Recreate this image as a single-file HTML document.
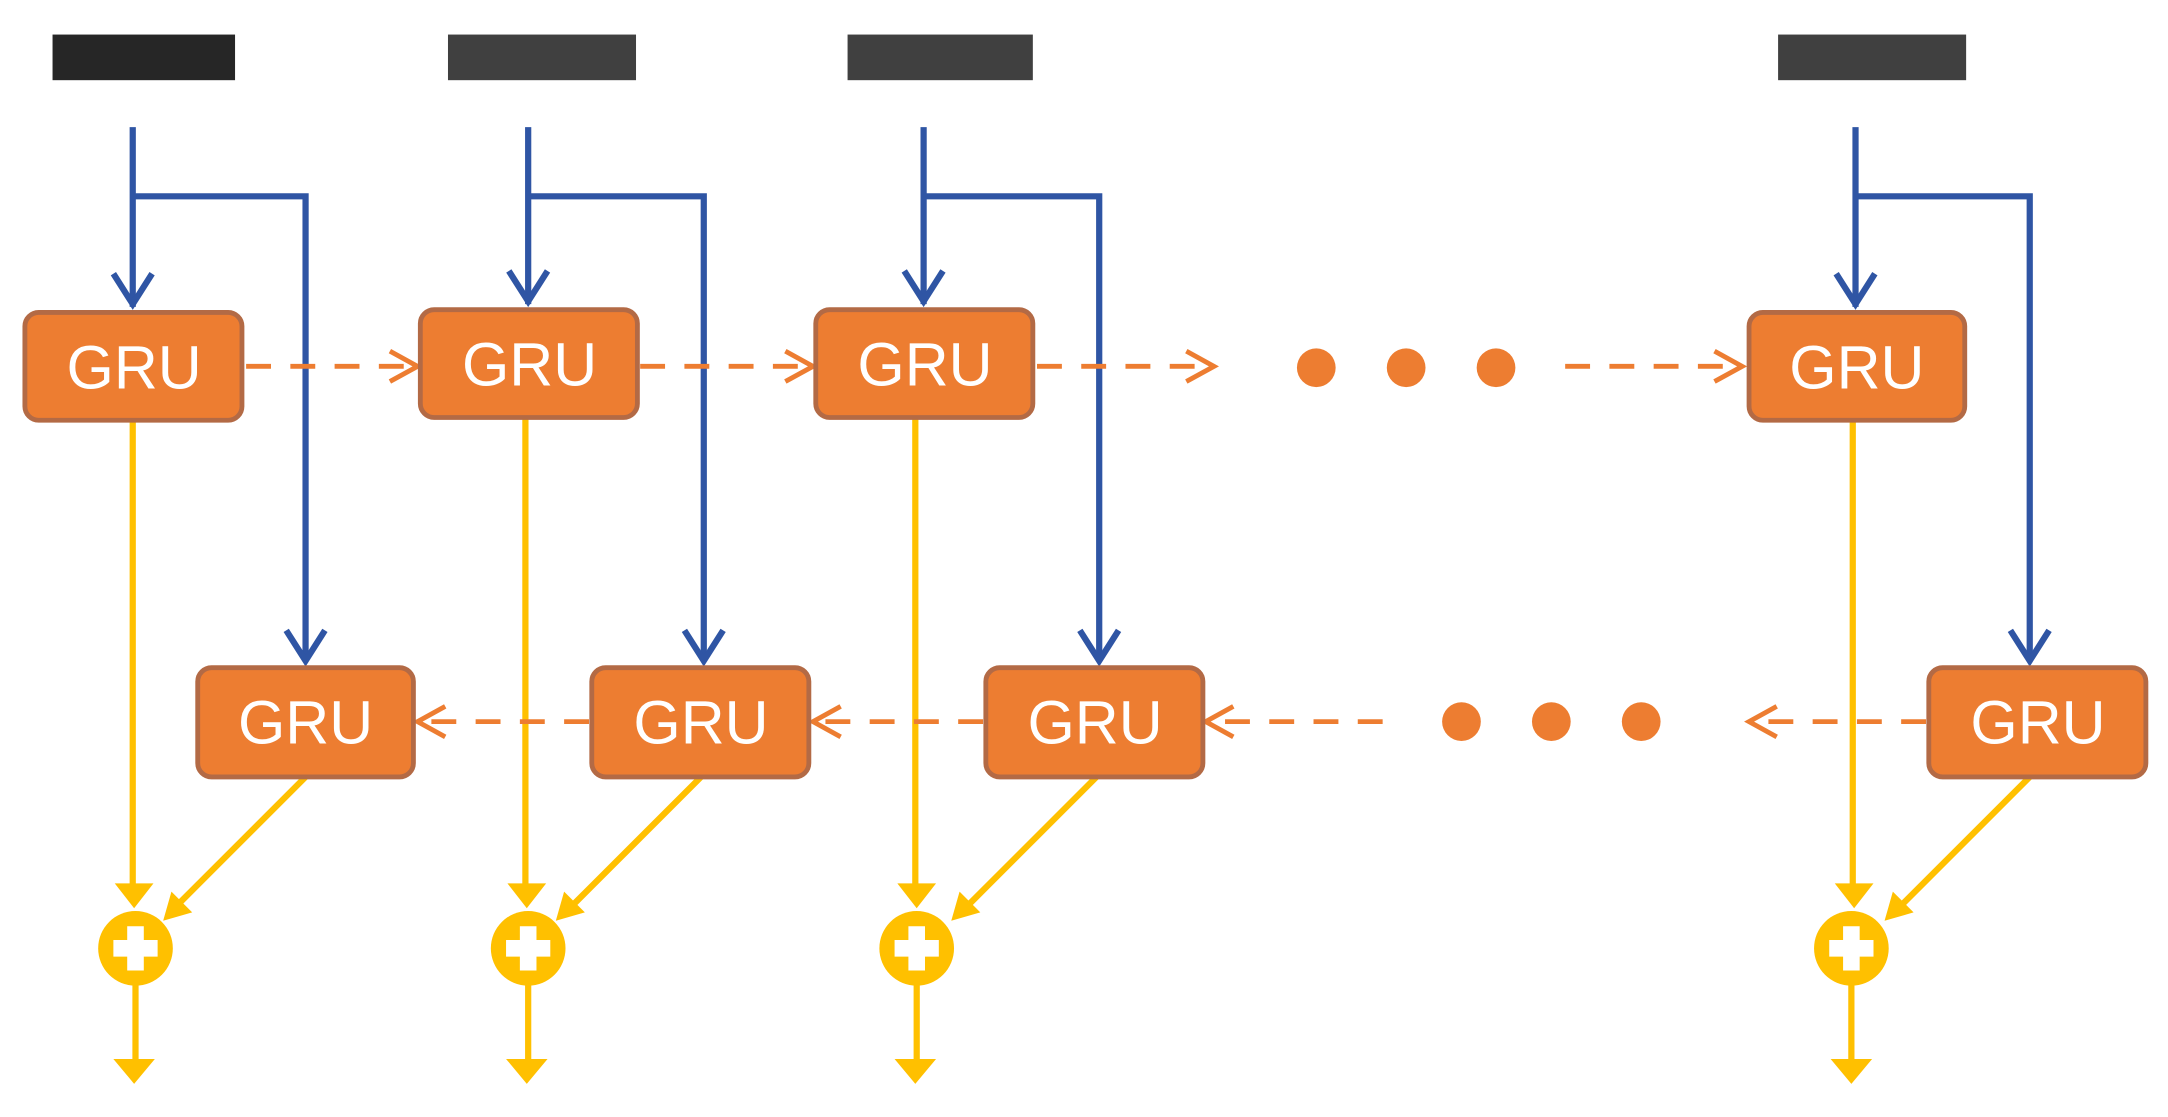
<!DOCTYPE html>
<html><head><style>html,body{margin:0;padding:0;background:#fff;}svg{display:block}</style></head>
<body>
<svg width="2168" height="1117" viewBox="0 0 1568 808" preserveAspectRatio="none" xmlns="http://www.w3.org/2000/svg">
<g fill="#404040">
<rect x="38" y="25" width="132" height="33" fill="#262626"/>
<rect x="324" y="25" width="136" height="33"/>
<rect x="613" y="25" width="134" height="33"/>
<rect x="1286" y="25" width="136" height="33"/>
</g>
<g stroke="#2F55A4" stroke-width="4.5" fill="none">
<path d="M96 92V222M96 142H221V478"/><path d="M82 198L96 220L110 198M207 456L221 478L235 456"/>
<path d="M382 92V220M382 142H509V478"/><path d="M368 196L382 218L396 196M495 456L509 478L523 456"/>
<path d="M668 92V220M668 142H795V478"/><path d="M654 196L668 218L682 196M781 456L795 478L809 456"/>
<path d="M1342 92V222M1342 142H1468V478"/><path d="M1328 198L1342 220L1356 198M1454 456L1468 478L1482 456"/>
</g>
<g stroke="#FFC000" stroke-width="4.5" fill="none">
<path d="M96 304V650M221 562L128 655M98 712V770"/>
<path d="M380 302V650M507 562L414 655M382 712V770"/>
<path d="M662 302V650M793 562L700 655M663 712V770"/>
<path d="M1340 304V650M1468 562L1375 655M1339 712V770"/>
</g>
<g fill="#FFC000">
<path d="M83 639H111L97 657Z"/><path d="M367 639H395L381 657Z"/><path d="M649 639H677L663 657Z"/><path d="M1327 639H1355L1341 657Z"/>
<path d="M118 666L124 645L139 660Z"/><path d="M402 666L408 645L423 660Z"/><path d="M688 666L694 645L709 660Z"/><path d="M1363 666L1369 645L1384 660Z"/>
<path d="M82 766H112L97 784Z"/><path d="M366 766H396L381 784Z"/><path d="M647 766H677L662 784Z"/><path d="M1324 766H1354L1339 784Z"/>
<circle cx="98" cy="686" r="27"/><circle cx="382" cy="686" r="27"/><circle cx="663" cy="686" r="27"/><circle cx="1339" cy="686" r="27"/>
</g>
<g fill="#fff">
<path d="M82 680H92V670H104V680H114V692H104V702H92V692H82Z"/>
<path d="M366 680H376V670H388V680H398V692H388V702H376V692H366Z"/>
<path d="M647 680H657V670H669V680H679V692H669V702H657V692H647Z"/>
<path d="M1323 680H1333V670H1345V680H1355V692H1345V702H1333V692H1323Z"/>
</g>
<g stroke="#ED7D31" stroke-width="3.5" fill="none" stroke-dasharray="18 14">
<path d="M178 265H298"/><path d="M463 265H584"/><path d="M750 265H874"/><path d="M1132 265H1258"/>
<path d="M426 522H306"/><path d="M711 522H592"/><path d="M1000 522H876"/><path d="M1393 522H1270"/>
</g>
<g stroke="#ED7D31" stroke-width="3.5" fill="none">
<path d="M282 254L302 265L282 276"/><path d="M568 254L588 265L568 276"/><path d="M858 254L878 265L858 276"/><path d="M1240 254L1260 265L1240 276"/>
<path d="M322 511L302 522L322 533"/><path d="M608 511L588 522L608 533"/><path d="M892 511L872 522L892 533"/><path d="M1285 511L1265 522L1285 533"/>
</g>
<g fill="#ED7D31">
<circle cx="952" cy="266" r="14"/><circle cx="1017" cy="266" r="14"/><circle cx="1082" cy="266" r="14"/>
<circle cx="1057" cy="522" r="14"/><circle cx="1122" cy="522" r="14"/><circle cx="1187" cy="522" r="14"/>
</g>
<g fill="#ED7D31" stroke="#B36A45" stroke-width="3.5">
<rect x="18" y="226" width="157" height="78" rx="10"/>
<rect x="304" y="224" width="157" height="78" rx="10"/>
<rect x="590" y="224" width="157" height="78" rx="10"/>
<rect x="1265" y="226" width="156" height="78" rx="10"/>
<rect x="143" y="483" width="156" height="79" rx="10"/>
<rect x="428" y="483" width="157" height="79" rx="10"/>
<rect x="713" y="483" width="157" height="79" rx="10"/>
<rect x="1395" y="483" width="157" height="79" rx="10"/>
</g>
<g fill="#fff" font-family="Liberation Sans, sans-serif" font-size="44" text-anchor="middle">
<text x="97" y="281">GRU</text>
<text x="383" y="279">GRU</text>
<text x="669" y="279">GRU</text>
<text x="1343" y="281">GRU</text>
<text x="221" y="538">GRU</text>
<text x="507" y="538">GRU</text>
<text x="792" y="538">GRU</text>
<text x="1474" y="538">GRU</text>
</g>
</svg>
</body></html>
